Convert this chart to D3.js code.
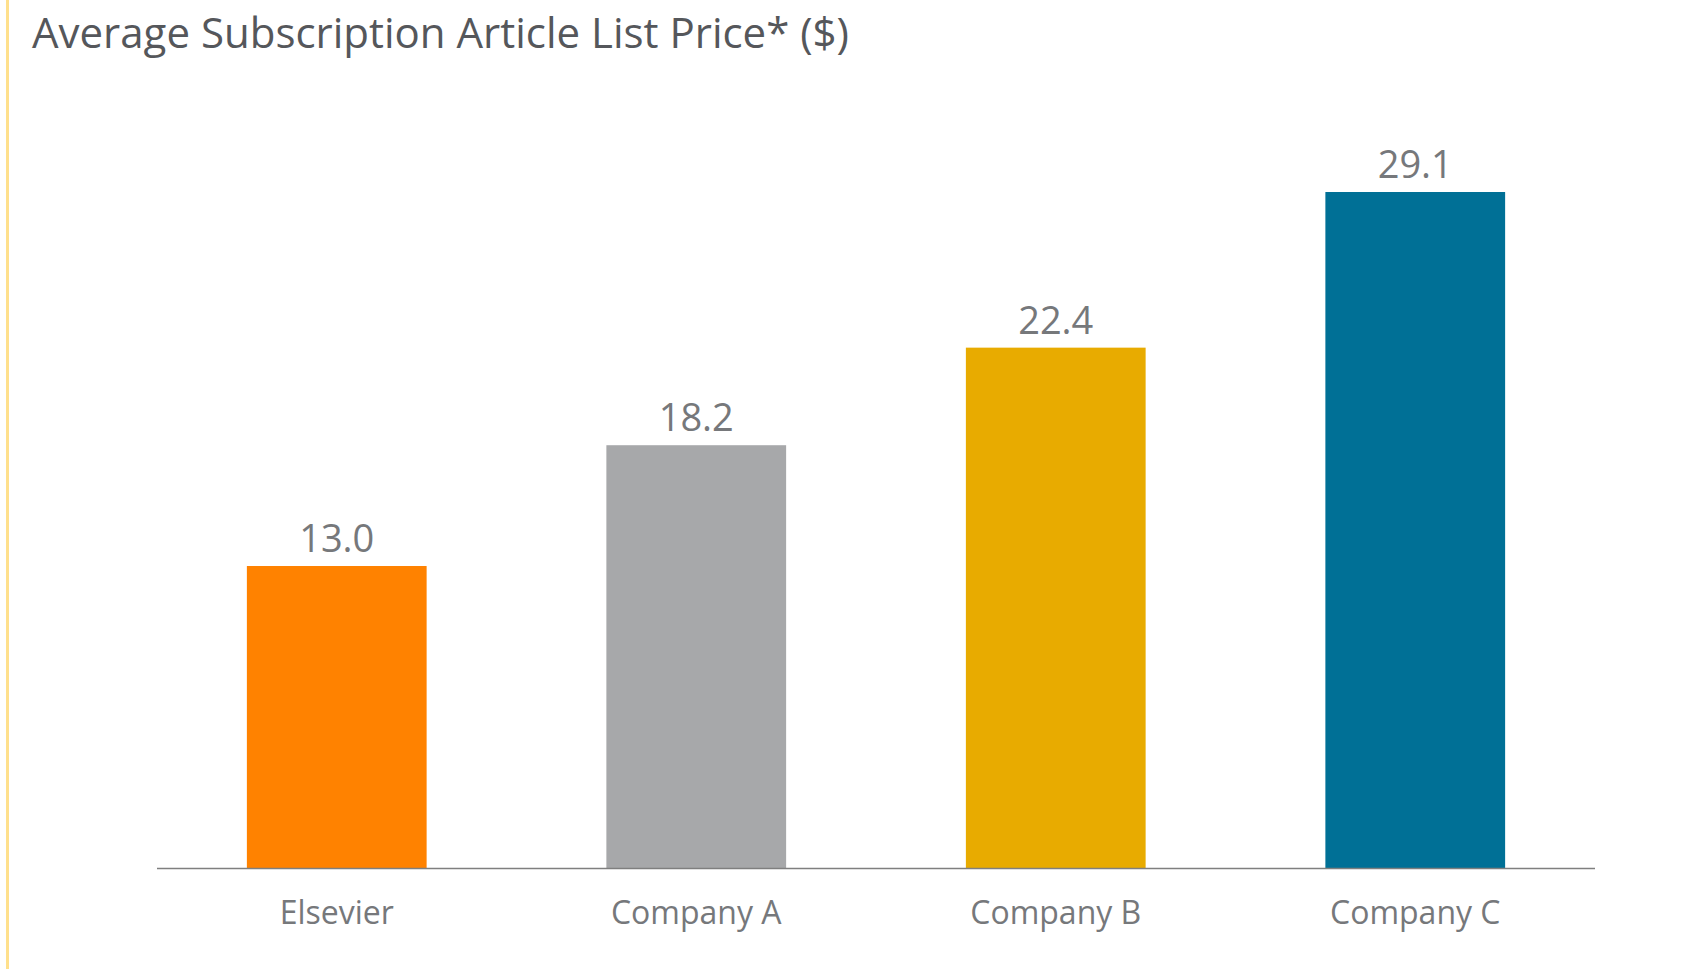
<!DOCTYPE html>
<html>
<head>
<meta charset="utf-8">
<script src="https://cdn.jsdelivr.net/npm/d3@7"></script>
<style>
  html, body { margin: 0; padding: 0; background: #fff; }
  svg { display: block; font-family: "Open Sans", sans-serif; }
</style>
</head>
<body>
<div id="chart"></div>
<script>
var companies = ["Elsevier", "Company A", "Company B", "Company C"];
var prices = [13.0, 18.2, 22.4, 29.1];
var barColors = ["#FF8200", "#A7A8AA", "#E8AB00", "#007096"];
var chartTitle = "Average Subscription Article List Price* ($)";

function drawBars(id){
  var width = 1686;
  var height = 969;
  var div = d3.select(id);
  div.select("svg").remove();
  var svg = div.append("svg")
    .attr("width", width)
    .attr("height", height)
    .attr("viewBox", "0 0 " + width + " " + height);

  var df = companies.map(function(c, i){
    return {name: c, value: prices[i], color: barColors[i]};
  });

  // left accent rule
  svg.append("line")
    .attr("x1", 7.5).attr("x2", 7.5)
    .attr("y1", 0).attr("y2", height)
    .style("stroke", "#FFE08C")
    .style("stroke-width", 3);

  svg.append("text")
    .attr("x", 32)
    .attr("y", 48)
    .style("font-size", "42px")
    .style("fill", "#55575B")
    .text(chartTitle);

  var xScale = d3.scaleBand()
    .domain(companies)
    .range([157, 1595])
    .paddingInner(0.5)
    .paddingOuter(0.25);

  var yScale = d3.scaleLinear()
    .domain([0, 35])
    .range([868, 868 - 35 * 23.23]);

  svg.append("g").selectAll().data(df).enter().append("rect")
    .attr("x", function(d){ return xScale(d.name); })
    .attr("y", function(d){ return yScale(d.value); })
    .attr("width", xScale.bandwidth())
    .attr("height", function(d){ return yScale(0) - yScale(d.value); })
    .attr("fill", function(d){ return d.color; });

  svg.append("g").selectAll().data(df).enter().append("text")
    .attr("x", function(d){ return xScale(d.name) + xScale.bandwidth() / 2; })
    .attr("y", function(d){ return yScale(d.value) - 14; })
    .style("text-anchor", "middle")
    .style("font-size", "38px")
    .style("fill", "#76787B")
    .text(function(d){ return d.value.toFixed(1); });

  var xAxis = svg.append("g")
    .attr("transform", "translate(0," + yScale(0) + ")")
    .call(d3.axisBottom(xScale).tickSize(0).tickPadding(0));
  xAxis.select(".domain")
    .attr("d", "M157,0.5H1595")
    .style("stroke", "#7F7F7F")
    .style("stroke-width", 1.5);
  xAxis.selectAll(".tick text")
    .attr("y", 56)
    .attr("dy", null)
    .style("font-family", "'Open Sans', sans-serif")
    .style("font-size", "32px")
    .style("fill", "#76787B");
}

drawBars("#chart");
</script>
</body>
</html>
